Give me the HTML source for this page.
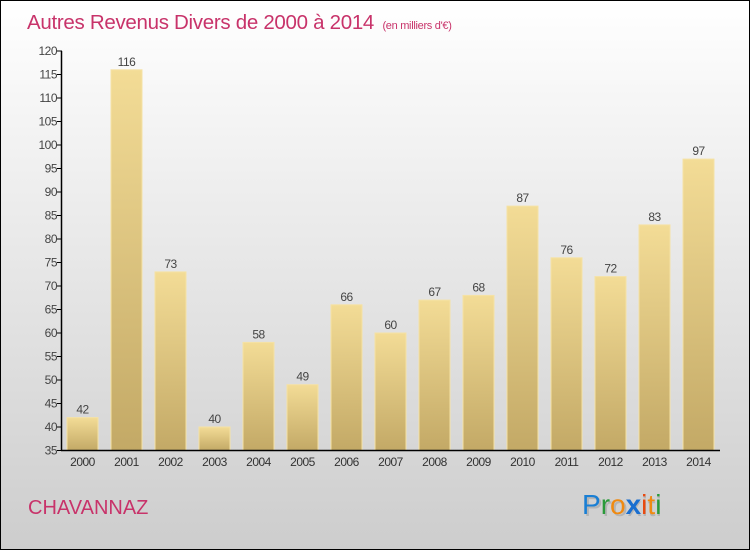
<!DOCTYPE html>
<html><head><meta charset="utf-8">
<style>
html,body{margin:0;padding:0;}
body{width:750px;height:550px;overflow:hidden;font-family:"Liberation Sans","DejaVu Sans",sans-serif;}
</style></head>
<body>
<svg id="chart" width="750" height="550" xmlns="http://www.w3.org/2000/svg">
<defs>
<linearGradient id="bg" x1="0" y1="0" x2="0" y2="1">
<stop offset="0" stop-color="#ffffff"/><stop offset="1" stop-color="#cdcdcd"/>
</linearGradient>
<linearGradient id="bar" x1="0" y1="0" x2="0" y2="1">
<stop offset="0" stop-color="#f3dc96"/><stop offset="1" stop-color="#c3a966"/>
</linearGradient>
</defs>
<rect x="0.5" y="0.5" width="749" height="549" fill="url(#bg)" stroke="#000" stroke-width="1"/>
<text x="27" y="29" font-size="20.5" fill="#c8336a" letter-spacing="-0.3">Autres Revenus Divers de 2000 à 2014 <tspan font-size="11" dx="3">(en milliers d'€)</tspan></text>
<g id="yaxis"></g>
<g id="bars"></g>
<g id="xaxis"></g>
<text x="28" y="514" font-size="20" fill="#c8336a">CHAVANNAZ</text>
<g font-size="28" font-family="'Liberation Sans',sans-serif">
<text x="584" y="516" fill="#999" opacity="0.5">Proxiti</text>
<text x="582" y="514"><tspan fill="#1a7fd4">P</tspan><tspan fill="#2a9a3a">r</tspan><tspan fill="#f08a10">o</tspan><tspan fill="#1a6fd0" font-weight="bold">x</tspan><tspan fill="#e84a10">i</tspan><tspan fill="#f08a10">t</tspan><tspan fill="#2a9a3a">i</tspan></text>
</g>
</svg>
<script>
const years = ["2000","2001","2002","2003","2004","2005","2006","2007","2008","2009","2010","2011","2012","2013","2014"];
const values = [42,116,73,40,58,49,66,60,67,68,87,76,72,83,97];
const yTicks = [35,40,45,50,55,60,65,70,75,80,85,90,95,100,105,110,115,120];
const NS="http://www.w3.org/2000/svg";
const yMin=35,yMax=120,yTop=51,yBot=450.5;
function yScale(v){return yBot-(v-yMin)/(yMax-yMin)*(yBot-yTop);}
function xScale(i){return 82.5+i*44;}
function mk(tag,attrs,parent){const e=document.createElementNS(NS,tag);for(const k in attrs)e.setAttribute(k,attrs[k]);parent.appendChild(e);return e;}
const ya=document.getElementById('yaxis'),ba=document.getElementById('bars'),xa=document.getElementById('xaxis');
yTicks.forEach(t=>{
  const y=yScale(t);
  const l=mk('line',{x1:57,x2:62,y1:y,y2:y,stroke:'#000','stroke-width':1},ya);
  
  
  const tx=mk('text',{x:57,y:y+4,'text-anchor':'end','font-size':12,fill:'#444','letter-spacing':'-0.5'},ya);
  tx.textContent=t;
  
  
});
years.forEach((yr,i)=>{
  const cx=xScale(i),w=31,y=yScale(values[i]);
  const r=mk('rect',{x:cx-w/2,y:y,width:w,height:yBot-y,fill:'url(#bar)',stroke:'#f5e2a5','stroke-width':1},ba);
  
  
  const v=mk('text',{x:cx,y:y-4,'text-anchor':'middle','font-size':12,fill:'#444','letter-spacing':'-0.5'},ba);
  v.textContent=values[i];
  
  
  const xl=mk('text',{x:cx,y:466,'text-anchor':'middle','font-size':12,fill:'#333','letter-spacing':'-0.5'},xa);
  xl.textContent=yr;
  
  
});
const ax=mk('line',{x1:61.5,x2:61.5,y1:yTop,y2:yBot,stroke:'#000','stroke-width':1.5},ya);


const bx=mk('line',{x1:61,x2:720,y1:yBot,y2:yBot,stroke:'#000','stroke-width':1.5},xa);


</script>
</body></html>
